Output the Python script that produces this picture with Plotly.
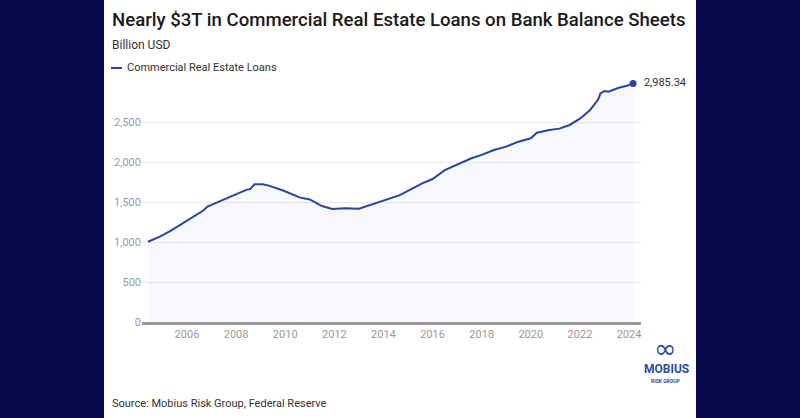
import plotly.graph_objects as go

# ---- data ----
dates = [
    "2004-06-01", "2004-12-01", "2005-05-01", "2005-11-01", "2006-04-01", "2006-09-01",
    "2006-11-01", "2007-06-01", "2008-01-01", "2008-06-01", "2008-08-01", "2008-10-01",
    "2009-02-01", "2009-05-01", "2009-12-01", "2010-03-01", "2010-08-01", "2011-01-01",
    "2011-07-01", "2011-12-01", "2012-06-01", "2013-01-01", "2013-09-01", "2014-01-01",
    "2014-09-01", "2015-08-01", "2016-01-01", "2016-07-01", "2016-11-01", "2017-04-01",
    "2017-08-01", "2018-01-01", "2018-07-01", "2019-01-01", "2019-07-01", "2020-01-01",
    "2020-04-01", "2020-10-01", "2021-03-01", "2021-08-01", "2022-01-01", "2022-06-01",
    "2022-10-01", "2022-11-01", "2023-01-01", "2023-03-01", "2023-08-01", "2023-12-01",
    "2024-03-01",
]
cre_loans = [
    1005, 1071, 1142, 1237, 1321, 1396,
    1446, 1521, 1604, 1654, 1667, 1725,
    1725, 1708, 1646, 1611, 1560, 1535,
    1452, 1414, 1423, 1418, 1485, 1525,
    1589, 1736, 1790, 1902, 1946, 2008,
    2050, 2092, 2154, 2196, 2258, 2300,
    2370, 2404, 2421, 2467, 2546, 2654,
    2788, 2863, 2892, 2883, 2933, 2958,
    2985.34,
]
y_ticks = [0, 500, 1000, 1500, 2000, 2500]
x_tick_years = [2006, 2008, 2010, 2012, 2014, 2016, 2018, 2020, 2022, 2024]

series_name = "Commercial Real Estate Loans"
title = "Nearly $3T in Commercial Real Estate Loans on Bank Balance Sheets"
subtitle = "Billion USD"
source = "Source: Mobius Risk Group, Federal Reserve"

# ---- layout geometry (pixels) ----
W, H = 800, 418
L, R, T, B = 142, 641, 80, 322
NAVY = "#070a4a"
LINE = "#2a449c"
LOGO = "#2d4c9e"
FONT = "Roboto"


def px(x):
    return (x - L) / (R - L)


def py(y):
    return (B - y) / (B - T)


fig = go.Figure()
fig.add_trace(go.Scatter(
    x=dates, y=cre_loans, mode="lines", name=series_name,
    line=dict(color=LINE, width=2), fill="tozeroy",
    fillcolor="rgba(42,68,156,0.035)", showlegend=False,
    hoverinfo="skip",
))
last_label = f"{cre_loans[-1]:,.2f}"
fig.add_trace(go.Scatter(
    x=[dates[-1]], y=[cre_loans[-1]], mode="markers+text",
    marker=dict(color=LINE, size=7), text=["  " + last_label],
    textposition="middle right",
    textfont=dict(family=FONT, size=11, color="#333333"),
    showlegend=False, cliponaxis=False,
))

shapes = [
    dict(type="rect", xref="paper", yref="paper", x0=px(104), x1=px(696),
         y0=py(H + 5), y1=py(-5), fillcolor="white", line=dict(width=0),
         layer="below"),
    dict(type="line", xref="paper", yref="paper", x0=px(111), x1=px(122),
         y0=py(68), y1=py(68), line=dict(color=LINE, width=2)),
]

annotations = [
    dict(text=title, x=px(110), y=py(20), xref="paper", yref="paper",
         xanchor="left", yanchor="middle", showarrow=False,
         font=dict(family=FONT, size=18.6, color="#1a1a1a", weight=500)),
    dict(text=subtitle, x=px(110), y=py(45), xref="paper", yref="paper",
         xanchor="left", yanchor="middle", showarrow=False,
         font=dict(family=FONT, size=12, color="#333333")),
    dict(text=series_name, x=px(125), y=py(68), xref="paper", yref="paper",
         xanchor="left", yanchor="middle", showarrow=False,
         font=dict(family=FONT, size=11, color="#333333")),
    dict(text=source, x=px(110), y=py(403), xref="paper", yref="paper",
         xanchor="left", yanchor="middle", showarrow=False,
         font=dict(family=FONT, size=11, color="#333333")),
    dict(text="∞", x=px(665), y=py(348), xref="paper", yref="paper",
         xanchor="center", yanchor="middle", showarrow=False,
         font=dict(family="DejaVu Sans", size=27, color=LOGO)),
    dict(text="<b>MOBIUS</b>", x=px(666), y=py(369), xref="paper", yref="paper",
         xanchor="center", yanchor="middle", showarrow=False,
         font=dict(family=FONT, size=12, color=LOGO)),
    dict(text="<b>RISK GROUP</b>", x=px(666), y=py(381), xref="paper", yref="paper",
         xanchor="center", yanchor="middle", showarrow=False,
         font=dict(family=FONT, size=5, color=LOGO)),
]

fig.update_layout(
    width=W, height=H,
    margin=dict(l=L, r=W - R, t=T, b=H - B, pad=0),
    paper_bgcolor=NAVY, plot_bgcolor="white",
    font=dict(family=FONT),
    shapes=shapes, annotations=annotations,
    showlegend=False,
    xaxis=dict(
        type="date", range=["2004-03-03", "2024-06-27"],
        tickvals=[f"{y}-01-01" for y in x_tick_years],
        ticktext=[str(y) for y in x_tick_years],
        showgrid=False, showline=True, linecolor="#999999", linewidth=3,
        ticks="", zeroline=False,
        tickfont=dict(family=FONT, size=11, color="#999999"),
    ),
    yaxis=dict(
        range=[0, 3030], tickvals=y_ticks, tickformat=",",
        showgrid=True, gridcolor="#ececec", gridwidth=1,
        zeroline=False, showline=False, ticks="",
        tickfont=dict(family=FONT, size=11, color="#999999"),
    ),
)

post = ("document.body.style.margin='0';document.body.style.padding='0';"
        "document.body.style.overflow='hidden';"
        "document.body.style.background='" + NAVY + "';")
fig.write_html("out.html", post_script=post, config={"displayModeBar": False})
